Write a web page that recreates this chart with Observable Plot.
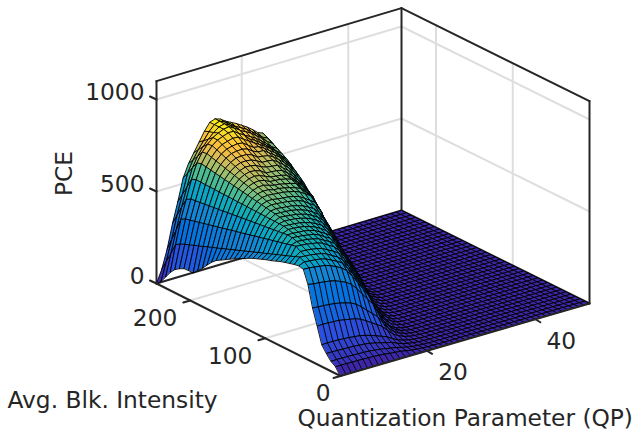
<!DOCTYPE html>
<html><head><meta charset="utf-8">
<script src="https://cdn.jsdelivr.net/npm/d3@7"></script>
<script src="https://cdn.jsdelivr.net/npm/@observablehq/plot@0.6"></script>
<style>html,body{margin:0;padding:0;background:#fff}svg{display:block}</style></head><body>
<script>
// PCE: one row per QP, one column per 41 intensity bins (0 to 245)
const q4=[0,38,55,85,120,209,295,410,480,487,482,475,468,460,450,440,432,422,412,402,390,376,362,350,335,320,305,290,268,240,210,185,160,160,158,145,128,100,62,25,0];
const q5=[0,38,56,85,121,210,292,404,478,499,512,502,492,482,473,463,453,443,433,424,414,404,394,384,375,365,355,345,335,326,316,306,296,287,277,267,257,240,180,125,70];
const q6=[0,38,55,84,121,209,290,402,475,495,509,521,537,531,524,518,512,505,499,492,486,480,473,467,460,454,448,441,435,428,422,416,409,403,396,390,384,370,300,235,170];
const q7=[0,37,55,83,120,207,287,398,470,493,507,520,534,542,550,553,549,546,543,539,536,533,530,526,523,520,516,513,510,506,503,500,497,493,490,487,483,470,415,358,300];
const q8=[0,37,54,82,118,205,284,394,466,488,502,516,532,539,547,553,561,566,567,568,568,569,570,571,571,572,573,573,574,575,575,576,577,578,578,579,580,570,515,462,410];
const q9=[0,36,53,81,116,200,278,386,456,480,497,511,526,536,544,550,559,565,573,581,586,590,595,599,604,608,613,617,622,626,631,635,640,644,649,653,658,650,610,570,530];
const q10=[0,35,52,78,112,194,270,374,442,465,486,503,521,530,539,548,556,562,571,578,585,594,602,609,617,624,631,639,646,653,661,668,675,683,690,697,705,700,665,632,600];
const q11=[0,34,50,76,109,188,261,361,427,450,468,487,510,522,534,542,551,559,568,574,583,590,600,610,620,630,640,650,660,670,679,689,699,709,719,729,739,735,708,680,650];
const q12=[0,32,47,71,102,177,246,341,403,433,453,472,491,506,522,534,542,551,562,571,580,587,597,604,617,629,641,653,665,677,689,701,713,725,737,749,761,762,740,720,700];
const q13=[0,29,43,65,93,160,223,309,365,395,425,453,475,490,503,517,531,542,554,563,574,584,594,601,614,620,632,646,660,674,688,702,716,730,744,758,772,778,768,760,750];
const q14=[0,25,38,57,82,141,196,272,322,355,384,414,446,471,487,500,514,528,542,554,565,575,588,598,611,619,624,631,647,664,681,698,715,732,749,766,783,790,790,790,790];
const q15=[0,22,32,49,71,122,170,235,278,308,338,372,403,430,456,481,495,511,525,539,554,566,582,592,605,613,621,629,635,644,665,685,705,724,744,764,783,795,798,800,800];
const q16=[0,19,27,42,60,103,144,199,235,263,292,322,354,386,413,439,464,486,505,522,536,551,570,583,598,606,614,626,631,642,655,668,684,704,723,743,762,778,782,786,790];
const q17=[0,13,19,29,42,73,101,139,169,209,246,275,306,335,363,395,419,446,474,496,516,534,549,565,586,597,608,619,627,639,651,667,680,691,703,725,745,760,765,768,770];
const q18=[0,8,12,18,26,45,63,87,103,138,178,219,258,286,314,342,365,398,428,455,483,507,531,546,568,585,599,610,618,632,648,663,675,690,698,706,714,722,735,745,755];
const q19=[0,5,7,11,16,27,38,53,62,88,114,150,193,234,264,292,315,341,373,406,437,465,498,525,549,555,568,585,596,610,625,644,659,669,681,689,699,707,721,730,740];
const q20=[0,3,4,6,9,15,21,28,34,52,73,99,126,164,196,233,253,283,308,334,366,398,432,461,497,519,539,555,568,586,603,621,636,649,660,671,678,689,704,713,722];
const q21=[0,1,2,3,4,7,10,14,16,26,36,52,72,94,119,152,163,189,221,261,293,337,372,405,441,474,501,523,539,555,575,595,612,629,640,650,657,667,682,691,704];
const q22=[0,1,1,1,2,3,4,6,7,12,18,27,38,54,74,95,115,129,161,189,200,238,274,316,361,418,447,483,501,523,545,564,583,599,614,627,633,644,660,670,682];
const q23=[0,0,0,0,0,1,1,1,2,3,5,9,14,21,31,43,63,78,95,120,140,165,195,225,255,296,339,382,428,475,507,531,553,568,584,594,607,617,633,644,657];
const q24=[0,0,0,0,0,0,0,0,0,0,1,2,4,8,14,21,33,42,55,71,85,105,130,155,180,215,250,285,325,365,405,450,490,525,550,570,585,600,615,630,645];
const q25=[0,0,0,0,0,0,0,0,0,0,0,0,1,2,4,8,13,21,28,37,49,60,72,90,111,136,160,187,216,254,292,329,372,415,455,490,520,550,575,590,605];
const q26=[0,0,0,0,0,0,0,0,0,0,0,0,0,0,0,2,4,8,13,17,24,30,38,50,64,85,103,123,149,175,204,236,274,316,350,383,408,436,470,500,540];
const q27=[0,0,0,0,0,0,0,0,0,0,0,0,0,0,0,0,0,0,2,4,7,10,17,24,32,44,56,73,91,112,132,156,185,216,245,276,297,320,349,376,416];
const q28=[0,0,0,0,0,0,0,0,0,0,0,0,0,0,0,0,0,0,0,0,0,1,3,6,10,16,23,38,52,71,85,104,131,158,178,205,221,240,268,295,334];
const q29=[0,0,0,0,0,0,0,0,0,0,0,0,0,0,0,0,0,0,0,0,0,0,0,0,1,3,6,10,16,25,33,43,70,90,105,127,135,154,176,192,223];
const q30=[0,0,0,0,0,0,0,0,0,0,0,0,0,0,0,0,0,0,0,0,0,0,0,0,0,0,0,1,3,6,10,15,24,34,45,56,63,75,90,104,130];
const q31=[0,0,0,0,0,0,0,0,0,0,0,0,0,0,0,0,0,0,0,0,0,0,0,0,0,0,0,0,0,0,1,3,6,11,17,24,28,35,44,53,70];
const q32=[0,0,0,0,0,0,0,0,0,0,0,0,0,0,0,0,0,0,0,0,0,0,0,0,0,0,0,0,0,0,0,0,0,1,3,6,8,12,16,20,30];
const q33=[0,0,0,0,0,0,0,0,0,0,0,0,0,0,0,0,0,0,0,0,0,0,0,0,0,0,0,0,0,0,0,0,0,0,0,0,0,1,2,4,8];
const pceRows=[q4,q5,q6,q7,q8,q9,q10,q11,q12,q13,q14,q15,q16,q17,q18,q19,q20,q21,q22,q23,q24,q25,q26,q27,q28,q29,q30,q31,q32,q33];
const qpLevels=d3.range(4,51);
const intensityBins=d3.range(41).map(k=>k*6.125);
const pceTicks=[0,500,1000], intensityTicks=[0,100,200], qpTicks=[20,40];
const zTop=1100,iMax=245,qMin=4,qMax=50;

// view: where the box's floor corners fall on the page, and how tall one PCE unit stands
const O=[340,375.5],A=[589,303],B=[156,283],C=[401,210],zs=.184;
function proj(q,i,z){const u=(q-qMin)/(qMax-qMin),v=i/iMax;
 const bl=k=>O[k]*(1-u)*(1-v)+A[k]*u*(1-v)+B[k]*(1-u)*v+C[k]*u*v;
 return [bl(0),bl(1)-zs*z]}
const Z=(a,b)=>(pceRows[a]||[])[b]??0;
const quads=[];let id=0;
for(let b=intensityBins.length-2;b>=0;b--)for(let a=qpLevels.length-2;a>=0;a--){
 id++;const v=Z(a,b);
 for(const [p,r] of [[a,b],[a+1,b],[a+1,b+1],[a,b+1]]){const [x,y]=proj(qpLevels[p],intensityBins[r],Z(p,r));quads.push({x,y,id,v})}
}
const zStops=[0,120,270,400,470,530,590,635,680,725,770,810];
const colStops=["#3e26a8","#2b50e0","#0471e0","#1485d4","#06a0cd","#15b0b4","#59bd8b","#9bbf6f","#d1bb59","#fdbe3d","#f7d825","#f9fb0e"];
const gridRows=[];let g=0;
function L(a,b){g++;for(const p of [a,b]){const [x,y]=proj(...p);gridRows.push({x,y,g})}}
for(const z of [500,1000]){L([qMin,iMax,z],[qMax,iMax,z]);L([qMax,iMax,z],[qMax,0,z])}
for(const q of qpTicks){L([q,0,0],[q,iMax,0]);L([q,iMax,0],[q,iMax,zTop])}
for(const i of [100,200]){L([qMin,i,0],[qMax,i,0]);L([qMax,i,0],[qMax,i,zTop])}
const boxRows=[];let h=0;
function K(a,b){h++;for(const p of [a,b]){const [x,y]=proj(...p);boxRows.push({x,y,h})}}
K([qMin,iMax,0],[qMin,iMax,zTop]);K([qMin,iMax,zTop],[qMax,iMax,zTop]);K([qMax,iMax,zTop],[qMax,0,zTop]);K([qMax,0,zTop],[qMax,0,0]);K([qMax,iMax,zTop],[qMax,iMax,0]);K([qMax,iMax,0],[qMin,iMax,0]);K([qMax,iMax,0],[qMax,0,0]);K([qMin,0,0],[qMax,0,0]);K([qMin,0,0],[qMin,iMax,0]);
const tickRows=[];let t=0;
function T(p,dx,dy){t++;const [x,y]=proj(...p);tickRows.push({x,y,t},{x:x+dx,y:y+dy,t})}
for(const z of pceTicks)T([qMin,iMax,z],-6.5,-3);
for(const i of intensityTicks)T([qMin,i,0],-7,2);
for(const q of qpTicks)T([q,0,0],5,3);
const labs=[];
function Lb(p,text,dx,dy,anchor){const [x,y]=proj(...p);labs.push({x:x+dx,y:y+dy,text,anchor})}
for(const z of pceTicks)Lb([qMin,iMax,z],String(z),-12,-7,"end");
for(const i of [100,200])Lb([qMin,i,0],String(i),-13,18,"end");
Lb([qMin,0,0],"0",-10,18,"end");
for(const q of qpTicks)Lb([q,0,0],String(q),26,22,"middle");
const ff="DejaVu Sans",col="#262626",fs=23.3;
const titles=[{x:7,y:400,s:"Avg. Blk. Intensity"},{x:297,y:418,s:"Quantization Parameter (QP)"}];
const chart=Plot.plot({width:636,height:432,margin:0,x:{domain:[0,636],axis:null},y:{domain:[432,0],axis:null},
 color:{type:"linear",domain:zStops,range:colStops,interpolate:"rgb"},
 marks:[
 Plot.line(gridRows,{x:"x",y:"y",z:"g",stroke:"#dedede",strokeWidth:2}),
 Plot.line(boxRows.slice(0,14),{x:"x",y:"y",z:"h",stroke:col,strokeWidth:2}),
 Plot.line(quads,{x:"x",y:"y",z:"id",fill:"v",stroke:"#000",strokeWidth:.9,curve:"linear-closed"}),
 Plot.line(boxRows.slice(14),{x:"x",y:"y",z:"h",stroke:col,strokeWidth:2}),
 Plot.line(tickRows,{x:"x",y:"y",z:"t",stroke:col,strokeWidth:2}),
 Plot.text(labs.filter(d=>d.anchor=="end"),{x:"x",y:"y",text:"text",textAnchor:"end",fontFamily:ff,fontSize:fs,fill:col}),
 Plot.text(labs.filter(d=>d.anchor=="middle"),{x:"x",y:"y",text:"text",textAnchor:"middle",fontFamily:ff,fontSize:fs,fill:col}),
 Plot.text(titles,{x:"x",y:"y",text:"s",textAnchor:"start",fontFamily:ff,fontSize:fs,fill:col}),
 Plot.text(["PCE"],{x:[64],y:[173],text:d=>d,rotate:-90,fontFamily:ff,fontSize:fs,fill:col}),
 ]});
document.body.appendChild(chart);
</script></body></html>
